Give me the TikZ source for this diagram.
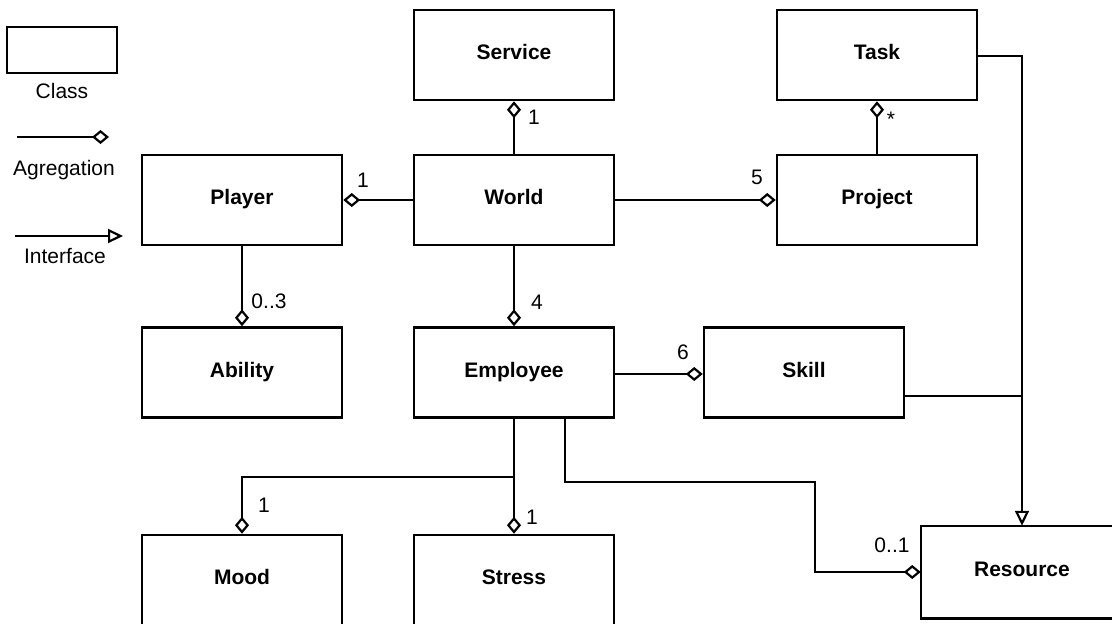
\documentclass[tikz,border=0pt]{standalone}
\usepackage{fontspec}
\setmainfont{Liberation Sans}
\usetikzlibrary{arrows.meta}

\begin{document}
\begin{tikzpicture}[x=1pt,y=-1pt,
  txt/.style={font=\fontsize{21}{25}\selectfont, inner sep=0pt},
  cls/.style={draw, line width=2.5pt, minimum width=200pt, minimum height=90pt,
    inner sep=0pt, font=\fontsize{21}{25}\selectfont\bfseries,
    text height=15.2pt, text depth=6pt},
  link/.style={line width=2.2pt},
  agg/.style={link, -{Diamond[open, length=17pt, width=14pt]}},
  iface/.style={link, -{Triangle[open, length=15pt, width=14pt]}},
  mult/.style={txt, anchor=center}]

  % canvas
  \useasboundingbox (0,0) rectangle (1112,624);
  \fill[white] (0,0) rectangle (1112,624);
  \clip (0,0) rectangle (1112,624);

  % legend
  \node[draw, line width=2.5pt, minimum width=110pt, minimum height=46pt, inner sep=0pt] (legclass) at (62,50) {};
  \node[txt, anchor=base] (legclasstxt) at (62,98) {Class};
  \coordinate (ag1) at (17,137);
  \coordinate (ag2) at (109,137);
  \draw[agg] (ag1) -- (ag2);
  \node[txt, anchor=base] (legaggtxt) at (64,175) {Agregation};
  \coordinate (if1) at (15,236);
  \coordinate (if2) at (123,236);
  \draw[iface] (if1) -- (if2);
  \node[txt, anchor=base] (legiftxt) at (65,263) {Interface};

  % classes
  \node[cls] (Service)  at (514,55)   {Service};
  \node[cls] (Task)     at (877,55)   {Task};
  \node[cls] (Player)   at (242,200)  {Player};
  \node[cls] (World)    at (514,200)  {World};
  \node[cls] (Project)  at (877,200)  {Project};
  \node[cls] (Ability)  at (242,372.5) {Ability};
  \node[cls] (Employee) at (514,372.5) {Employee};
  \node[cls] (Skill)    at (804,372.5) {Skill};
  \node[cls] (Mood)     at (242,580)  {Mood};
  \node[cls] (Stress)   at (514,580)  {Stress};
  % this box runs past the page edge, so its right side is left open
  \node[cls, draw=none] (Resource) at (1022,572) {Resource};
  \draw[line width=2.5pt] ([xshift=30pt]Resource.north east) -- (Resource.north west)
    -- (Resource.south west) -- ([xshift=30pt]Resource.south east);

  % aggregations
  \draw[agg] (World.north) -- (Service.south);
  \draw[agg] (World.west) -- (Player.east);
  \draw[agg] (World.east) -- (Project.west);
  \draw[agg] (World.south) -- (Employee.north);
  \draw[agg] (Project.north) -- (Task.south);
  \draw[agg] (Player.south) -- (Ability.north);
  \draw[agg] ([yshift=-1.5pt]Employee.east) -- ([yshift=-1.5pt]Skill.west);
  \coordinate (moodbend) at (242,477);
  \draw[agg] (Employee.south) |- (moodbend) -- (Mood.north);
  \draw[agg] (Employee.south) -- (Stress.north);
  \coordinate (resbend) at (815,482);
  \draw[agg] ([xshift=51pt]Employee.south) |- (resbend) |- (Resource.west);

  % interfaces
  \draw[iface] ([yshift=-1pt]Task.east) -| (Resource.north);
  \coordinate (skillout) at ([yshift=-23.5pt]Skill.east);
  \draw[link] (skillout) -- (skillout -| Resource.north);

  % multiplicities
  \node[mult] (mService)  at (534,117) {1};
  \node[mult] (mPlayer)   at (363,180) {1};
  \node[mult] (mProject)  at (757,177) {5};
  \node[mult] (mTask)     at (891,119) {*};
  \node[mult] (mEmployee) at (537,302) {4};
  \node[mult] (mAbility)  at (269,301) {0..3};
  \node[mult] (mSkill)    at (683,352) {6};
  \node[mult] (mMood)     at (264,505) {1};
  \node[mult] (mStress)   at (532,517) {1};
  \node[mult] (mResource) at (892,545) {0..1};
\end{tikzpicture}
\end{document}
